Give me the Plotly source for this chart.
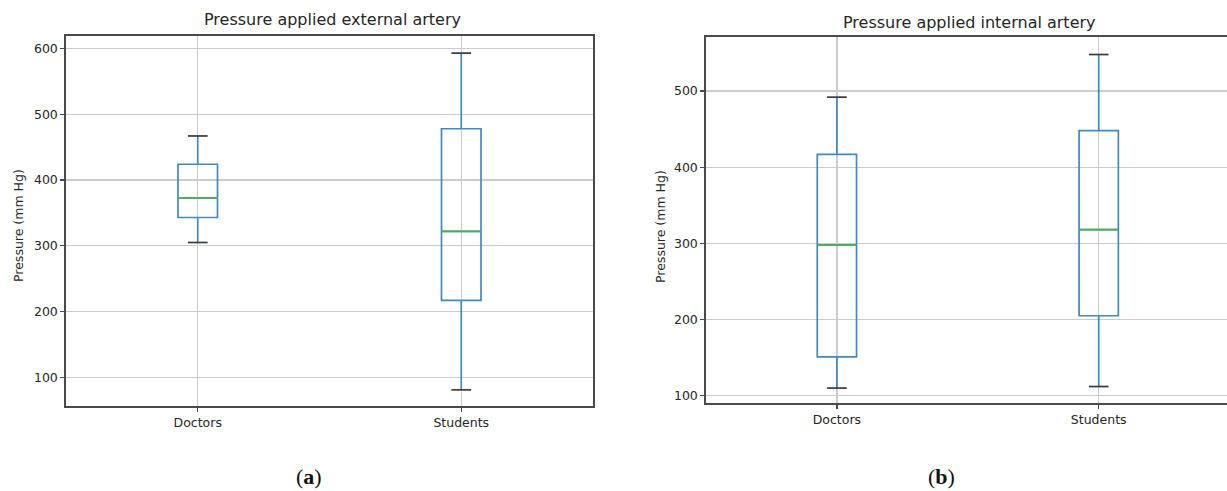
import plotly.graph_objects as go

# ---- data ----
groups = ["Doctors", "Students"]
positions = [1, 2]

ext_min = [305, 81]
ext_q1 = [343, 217]
ext_median = [373, 322]
ext_q3 = [424, 478]
ext_max = [467, 593]

int_min = [110, 112]
int_q1 = [151, 205]
int_median = [298, 318]
int_q3 = [417, 448]
int_max = [492, 548]

ext_ticks = [100, 200, 300, 400, 500, 600]
int_ticks = [100, 200, 300, 400, 500]

titles = ["Pressure applied external artery", "Pressure applied internal artery"]
ytitle = "Pressure (mm Hg)"
panel_labels = ["(<b>a</b>)", "(<b>b</b>)"]

W, H = 1227, 491
BOX_W = 0.15
CAP_W = BOX_W / 2
BLUE = "#3f8ac2"
GREEN = "#4fae4f"
CAP = "#3a3a3a"
AXC = "#4a4a4a"
GRID = "#cccccc"
FONT = "DejaVu Sans"
TXT = "#262626"

fig = go.Figure()


def add_panel(fig, xref, yref, mins, q1s, meds, q3s, maxs):
    fig.add_trace(go.Box(
        x=positions, q1=q1s, median=meds, q3=q3s,
        lowerfence=mins, upperfence=maxs,
        width=BOX_W, whiskerwidth=0,
        line=dict(color=BLUE, width=1.7),
        fillcolor="rgba(0,0,0,0)",
        boxpoints=False, showlegend=False,
        xaxis=xref, yaxis=yref, hoverinfo="skip",
    ))
    # caps
    cx, cy = [], []
    for p, lo, hi in zip(positions, mins, maxs):
        cx += [p - CAP_W / 2, p + CAP_W / 2, None, p - CAP_W / 2, p + CAP_W / 2, None]
        cy += [lo, lo, None, hi, hi, None]
    fig.add_trace(go.Scatter(x=cx, y=cy, mode="lines",
                             line=dict(color=CAP, width=1.7),
                             showlegend=False, xaxis=xref, yaxis=yref,
                             hoverinfo="skip"))
    # medians
    mx, my = [], []
    for p, m in zip(positions, meds):
        mx += [p - BOX_W / 2, p + BOX_W / 2, None]
        my += [m, m, None]
    fig.add_trace(go.Scatter(x=mx, y=my, mode="lines",
                             line=dict(color=GREEN, width=1.7),
                             showlegend=False, xaxis=xref, yaxis=yref,
                             hoverinfo="skip"))


add_panel(fig, "x", "y", ext_min, ext_q1, ext_median, ext_q3, ext_max)
add_panel(fig, "x2", "y2", int_min, int_q1, int_median, int_q3, int_max)

common_x = dict(tickmode="array", tickvals=positions, ticktext=groups,
                showgrid=True, gridcolor=GRID, gridwidth=1.2, zeroline=False,
                showline=True, linecolor=AXC, linewidth=1.7, mirror=True,
                ticks="outside", ticklen=4, tickcolor=AXC, tickwidth=1.2,
                tickfont=dict(family=FONT, size=12.5, color=TXT))
common_y = dict(showgrid=True, gridcolor=GRID, gridwidth=1.2, zeroline=False,
                showline=True, linecolor=AXC, linewidth=1.7,
                ticks="outside", ticklen=4, tickcolor=AXC, tickwidth=1.2,
                tickfont=dict(family=FONT, size=12.5, color=TXT))

fig.update_layout(
    width=W, height=H,
    margin=dict(l=0, r=0, t=0, b=0),
    paper_bgcolor="white", plot_bgcolor="white",
    showlegend=False,
    xaxis=dict(domain=[66 / W, 593 / W], range=[0.5, 2.5], anchor="y", **common_x),
    yaxis=dict(domain=[1 - 406 / H, 1 - 36 / H], range=[56.4, 619],
               tickvals=ext_ticks, mirror=True, anchor="x", **common_y),
    xaxis2=dict(domain=[706 / W, 1.0], range=[0.5, 2.49], anchor="y2", **common_x),
    yaxis2=dict(domain=[1 - 403 / H, 1 - 37 / H], range=[90.4, 571],
                tickvals=int_ticks, mirror=False, anchor="x2", **common_y),
)

ann = []
ann.append(dict(text=titles[0], x=332 / W, y=1 - 20 / H, xref="paper", yref="paper",
                showarrow=False, font=dict(family=FONT, size=16, color=TXT),
                xanchor="center", yanchor="middle"))
ann.append(dict(text=titles[1], x=969 / W, y=1 - 22 / H, xref="paper", yref="paper",
                showarrow=False, font=dict(family=FONT, size=16, color=TXT),
                xanchor="center", yanchor="middle"))
for xc, yc in [(18, 226), (660, 227)]:
    ann.append(dict(text=ytitle, x=xc / W, y=1 - yc / H, xref="paper", yref="paper",
                    showarrow=False, textangle=-90,
                    font=dict(family=FONT, size=12.5, color=TXT),
                    xanchor="center", yanchor="middle"))
for lbl, xc in zip(panel_labels, [309, 941]):
    ann.append(dict(text=lbl, x=xc / W, y=1 - 476 / H, xref="paper", yref="paper",
                    showarrow=False, font=dict(family="Liberation Serif", size=22, color="#111111"),
                    xanchor="center", yanchor="middle"))
fig.update_layout(annotations=ann)

fig.write_html(
    "out.html",
    config={"displayModeBar": False, "staticPlot": True},
    post_script="document.body.style.margin='0';document.body.style.overflow='hidden';",
)
